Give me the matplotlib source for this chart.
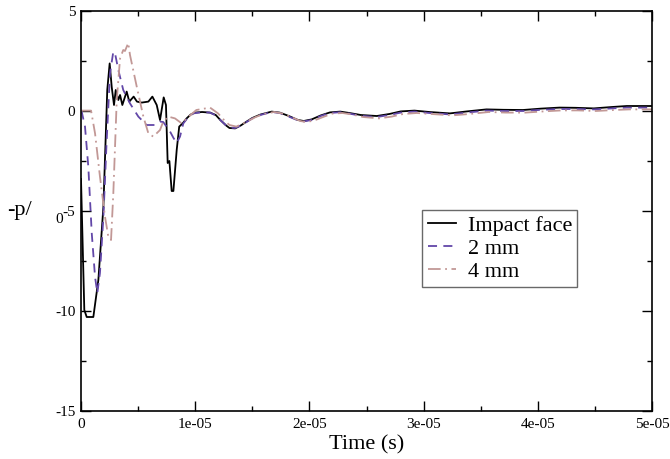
import matplotlib
matplotlib.use("Agg")
import matplotlib.pyplot as plt
import numpy as np

plt.rcParams['font.family'] = ['Liberation Serif', 'DejaVu Serif']

# time in microseconds
t_face = [0, 0.29, 0.5, 1.08, 1.52, 1.96, 2.3, 2.51, 2.69, 2.89, 3.04, 3.27, 3.42,
          3.62, 4.0, 4.23, 4.61, 4.9, 5.31, 5.9, 6.25, 6.63, 6.92, 7.24, 7.44, 7.59,
          7.74, 7.94, 8.09, 8.38, 8.6, 8.9, 9.25, 9.6, 9.98, 10.6, 11.3, 11.8, 12.2,
          12.7, 13.0, 13.5, 14.0, 14.5, 15.0, 15.7, 16.7, 17.4, 18.2, 19.0, 19.5,
          20.2, 21.0, 21.8, 22.7, 23.5, 24.5, 25.9, 27.0, 28.0, 29.2, 30.5, 32.3,
          33.8, 35.5, 37.0, 38.7, 40.3, 41.9, 43.3, 44.9, 46.5, 47.8, 50.0]
p_face = [-3.4, -9.95, -10.3, -10.3, -8.45, -4.8, 1.05, 2.38, 1.2, 0.3, 1.05, 0.55, 0.8,
          0.3, 0.97, 0.47, 0.72, 0.47, 0.42, 0.47, 0.72, 0.3, -0.45, 0.68, 0.3, -2.6,
          -2.5, -4.0, -4.0, -1.95, -0.78, -0.62, -0.37, -0.18, -0.08, -0.05, -0.08, -0.2, -0.45,
          -0.72, -0.85, -0.87, -0.72, -0.53, -0.35, -0.18, -0.03, -0.08, -0.25, -0.45, -0.5,
          -0.42, -0.22, -0.07, -0.03, -0.1, -0.2, -0.25, -0.15, -0.02, 0.02, -0.05, -0.12,
          -0.02, 0.08, 0.06, 0.05, 0.12, 0.17, 0.16, 0.13, 0.2, 0.25, 0.25]

t_2mm = [0, 0.06, 0.35, 0.64, 0.94, 1.23, 1.43, 1.66, 1.96, 2.25, 2.54, 2.83, 2.98,
         3.27, 3.7, 4.29, 5.02, 5.75, 6.48, 6.92, 7.2, 7.8, 8.1, 8.38, 8.67, 8.96,
         9.4, 9.83, 10.6, 11.3, 11.8, 12.2, 12.7, 13.0, 13.5, 14.0, 14.5, 15.0, 15.7,
         16.7, 17.4, 18.2, 19.0, 19.5, 20.2, 21.0, 21.8, 22.7, 23.5, 24.5, 25.9, 27.0,
         28.0, 29.2, 30.5, 32.3, 33.8, 35.5, 37.0, 38.7, 40.3, 41.9, 43.3, 44.9, 46.5,
         47.8, 50.0]
p_2mm = [0, -0.03, -0.78, -2.78, -6.1, -8.3, -9.1, -8.1, -5.3, -1.45, 1.88, 2.97, 2.88,
         2.05, 1.05, 0.38, -0.28, -0.7, -0.7, -0.53, -0.55, -1.03, -1.35, -1.6, -1.28, -0.62,
         -0.3, -0.12, -0.06, -0.08, -0.22, -0.45, -0.72, -0.83, -0.85, -0.72, -0.55, -0.37, -0.2,
         -0.05, -0.1, -0.28, -0.47, -0.52, -0.45, -0.25, -0.1, -0.06, -0.13, -0.24, -0.3, -0.2,
         -0.08, -0.03, -0.1, -0.17, -0.08, 0.02, 0.0, 0.0, 0.06, 0.1, 0.1, 0.08, 0.13,
         0.17, 0.17]

t_4mm = [0, 0.88, 1.23, 1.66, 2.1, 2.39, 2.63, 2.83, 3.13, 3.42, 3.7, 3.85, 4.14,
         4.29, 4.88, 5.46, 5.9, 6.33, 6.92, 7.2, 7.64, 8.23, 8.82, 9.25, 10.1, 11.3,
         12.0, 12.6, 13.0, 13.6, 14.2, 14.8, 15.3, 16.0, 16.9, 17.6, 18.4, 19.2, 19.7,
         20.4, 21.2, 22.0, 22.9, 23.7, 24.7, 26.1, 27.2, 28.2, 29.4, 30.7, 32.5, 34.0,
         35.7, 37.2, 38.9, 40.5, 42.1, 43.5, 45.1, 46.7, 48.0, 50.0]
p_4mm = [0.02, 0.02, -1.12, -3.28, -5.28, -6.28, -6.45, -4.12, 0.55, 2.63, 3.05, 3.0, 3.4,
         2.8, 1.22, -0.28, -1.12, -1.28, -0.95, -0.53, -0.28, -0.37, -0.62, -0.37, 0.05, 0.17,
         -0.12, -0.5, -0.7, -0.78, -0.62, -0.45, -0.3, -0.15, -0.05, -0.12, -0.3, -0.5, -0.55,
         -0.48, -0.3, -0.13, -0.1, -0.17, -0.3, -0.37, -0.28, -0.15, -0.1, -0.15, -0.22, -0.15,
         -0.05, -0.08, -0.08, -0.02, 0.03, 0.03, 0.0, 0.05, 0.08, 0.08]

x_ticks = [0, 1e-5, 2e-5, 3e-5, 4e-5, 5e-5]
x_labels = ['0', '1e-05', '2e-05', '3e-05', '4e-05', '5e-05']
y_ticks = [-15, -10, -5, 0, 5]
y_labels = ['-15', '-10', '-5', '0', '5']

fig = plt.figure(figsize=(6.7, 4.59), dpi=100)
ax = fig.add_axes([81 / 670, 1 - 411 / 459, 571 / 670, 400 / 459])

ax.plot(np.array(t_face) * 1e-6, p_face, color='black', lw=1.3, label='Impact face')
ax.plot(np.array(t_2mm) * 1e-6, p_2mm, color='#6247a8', lw=1.3, dashes=(5, 3.5), label='2 mm')
ax.plot(np.array(t_4mm) * 1e-6, p_4mm, color='#c29896', lw=1.3, dashes=(7, 2.5, 1, 2.5), label='4 mm')

ax.set_xlim(0, 5e-5)
ax.set_ylim(-15, 5)
ax.set_xticks(x_ticks)
ax.set_xticklabels(x_labels)
ax.set_yticks(y_ticks)
ax.set_yticklabels(y_labels)
ax.set_xticks(np.arange(0.5e-5, 5e-5, 1e-5), minor=True)
ax.set_yticks(np.arange(-12.5, 5, 5), minor=True)
ax.tick_params(which='both', direction='in', top=True, right=True, width=1.0, labelsize=11)
ax.tick_params(which='major', length=7.5)
ax.tick_params(which='minor', length=3.7)
ax.tick_params(axis='x', pad=5)
ax.tick_params(axis='y', pad=4)
for s in ax.spines.values():
    s.set_linewidth(1.2)

ax.set_xlabel('Time (s)', fontsize=16, labelpad=3)
fig.text(7 / 670, 1 - 215 / 459, '-p/', fontsize=16, ha='left', va='baseline')
fig.text(55 / 670, 1 - 223 / 459, '0', fontsize=11, ha='left', va='baseline')

leg = ax.legend(loc='upper left', bbox_to_anchor=((422 - 81) / 571, (411 - 210) / 400),
                fontsize=16, frameon=True, fancybox=False, handlelength=1.3,
                handletextpad=0.5, borderpad=0.25, labelspacing=0.1, borderaxespad=0)
leg.get_frame().set_edgecolor('#444444')
leg.get_frame().set_linewidth(1.0)

fig.savefig('out.png', dpi=100)
